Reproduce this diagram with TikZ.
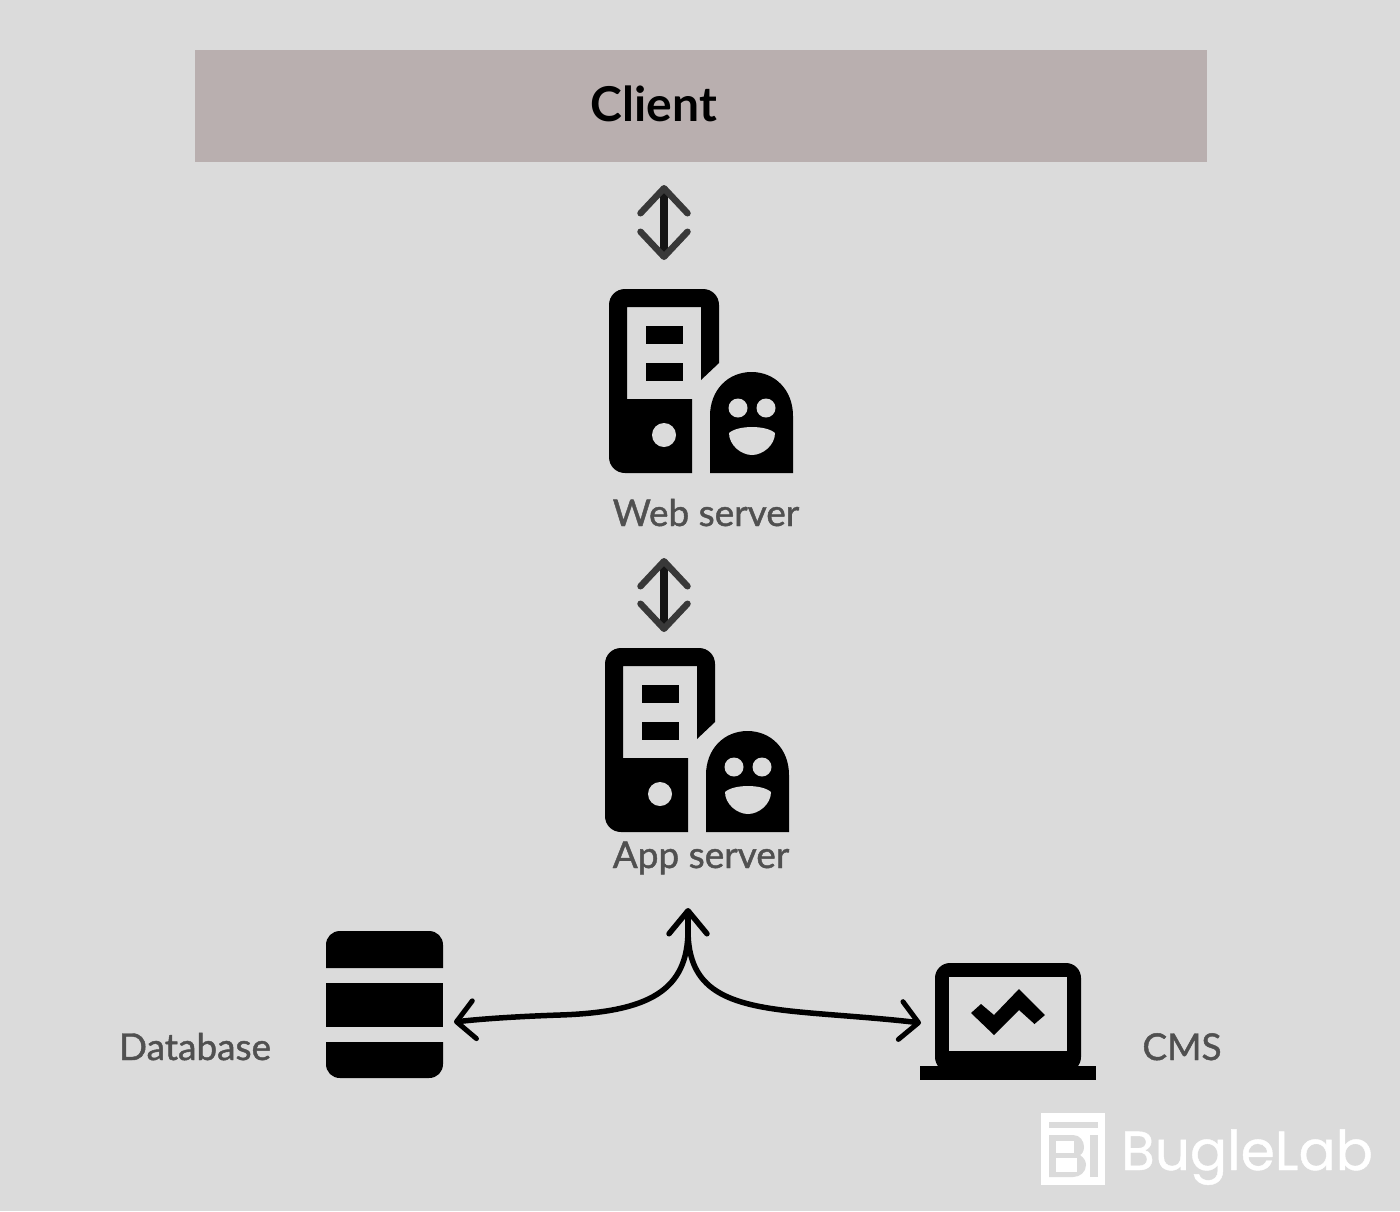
\documentclass[tikz,border=0pt]{standalone}
\usepackage{fontspec}
\setmainfont{Lato}
\newfontfamily\labfont[FakeBold=1.2]{Lato}
\newfontfamily\logofont[FakeBold=0.8]{Poppins}
\usetikzlibrary{arrows.meta}
\definecolor{bg}{HTML}{DBDBDB}
\definecolor{clientfill}{HTML}{B9AFAF}
\definecolor{labelgray}{HTML}{505050}
\tikzset{
  x=1pt,y=-1pt,
  ink/.style={fill=black,draw=none},
  hole/.style={fill=bg,draw=none},
  lab/.style={text=labelgray,font=\labfont\fontsize{37}{40}\selectfont,inner sep=0pt,anchor=base},
  updown/.style={line width=7.5pt,color=black!92,
    {Straight Barb[length=25pt,width=47pt,line width=6.5pt,round,color=black!78]}-{Straight Barb[length=25pt,width=47pt,line width=6.5pt,round,color=black!78]}},
  branch/.style={line width=5.5pt,color=black,line cap=round,-{Straight Barb[length=18pt,width=38pt,line width=5pt,round]}},
  branchup/.style={line width=5.5pt,color=black,line cap=round,-{Straight Barb[length=23pt,width=38pt,line width=5.5pt,round]}},
}
\newcommand{\servericon}[2]{%
  \begin{scope}[shift={(#1,#2)}]
    \fill[ink] (609,305) .. controls (609,296) and (616,289) .. (625,289) -- (703,289) .. controls (712,289) and (719,296) .. (719,305) -- (719,363) -- (701,380) -- (701,307) -- (627,307) -- (627,399) -- (692,399) -- (692,473) -- (625,473) .. controls (616,473) and (609,466) .. (609,457) -- cycle;
    \fill[ink] (646,326) rectangle (683,344);
    \fill[ink] (646,363) rectangle (683,381);
    \fill[hole] (664,435) circle[radius=12];
    \fill[ink] (710,473) -- (710,416) .. controls (710,390) and (728,372) .. (751.5,372) .. controls (775,372) and (793,390) .. (793,416) -- (793,473) -- cycle;
    \fill[hole] (738,408) circle[radius=9.5];
    \fill[hole] (766,408) circle[radius=9.5];
    \fill[hole] (729,433) .. controls (738,425) and (766,425) .. (775,433) .. controls (775,445) and (763,455) .. (752,455) .. controls (741,455) and (729,445) .. (729,433) -- cycle;
  \end{scope}}
\begin{document}
\begin{tikzpicture}
\useasboundingbox (0,0) rectangle (1400,1211);
\fill[bg] (0,0) rectangle (1400,1211);

% client
\fill[clientfill] (195,50) rectangle (1207,162);
\node[inner sep=0pt,font=\fontsize{48}{52}\selectfont\bfseries,text=black] (client) at (654,104) {Client};

% servers
\servericon{0}{0}
\servericon{-4}{359}
\node[lab] (web) at (706,526) {Web server};
\node[lab] (app) at (701,868) {App server};

% database
\fill[ink] (326,968) -- (326,945) .. controls (326,937) and (332,931) .. (340,931) -- (429,931) .. controls (437,931) and (443,937) .. (443,945) -- (443,968) -- cycle;
\fill[ink] (326,983) rectangle (443,1027);
\fill[ink] (326,1042) -- (443,1042) -- (443,1064) .. controls (443,1072) and (437,1078) .. (429,1078) -- (340,1078) .. controls (332,1078) and (326,1072) .. (326,1064) -- cycle;
\node[lab] (dblabel) at (195,1060) {Database};

% cms laptop
\fill[ink,rounded corners=15pt] (935,963) rectangle (1081,1072);
\fill[hole] (949,977) rectangle (1067,1051);
\fill[ink] (920,1066) rectangle (1096,1080);
\fill[ink] (971,1013) -- (981,1004) -- (994,1015) -- (1019,989) -- (1045,1015) -- (1034.5,1024) -- (1019,1010) -- (994,1035) -- cycle;
\node[lab] (cmslabel) at (1182,1060) {CMS};

% connectors
\coordinate (a1) at (664,185);
\coordinate (a2) at (664,260);
\coordinate (b1) at (664,558);
\coordinate (b2) at (664,632);
\draw[updown] (a1) -- (a2);
\draw[updown] (b1) -- (b2);

\coordinate (hub) at (688,908);
\coordinate (dbend) at (454,1022);
\coordinate (cmsend) at (921,1023);
\draw[branch] (688,930) .. controls (688,990) and (650,1012) .. (560,1015) .. controls (530,1016) and (490,1018) .. (dbend);
\draw[branch] (688,930) .. controls (688,990) and (726,1005) .. (800,1012) .. controls (830,1015) and (880,1018) .. (cmsend);
\draw[branchup] (688,945) -- (hub);

% logo
\fill[white] (1041,1113) rectangle (1105,1185);
\fill[bg] (1049,1122) rectangle (1098,1128);
\fill[bg] (1049,1135) -- (1073,1135) .. controls (1080,1135) and (1084,1141) .. (1084,1147) .. controls (1084,1151) and (1082,1154) .. (1080,1155) .. controls (1084,1158) and (1086,1161) .. (1086,1165) .. controls (1086,1172) and (1080,1177) .. (1073,1177) -- (1049,1177) -- cycle;
\fill[white] (1056,1141) rectangle (1074,1153);
\fill[white] (1056,1158) rectangle (1077,1172);
\fill[bg] (1090,1135) rectangle (1098,1177);
\node[inner sep=0pt,anchor=base,text=white,font=\logofont\fontsize{55}{60}\selectfont] (logo) at (1247,1170) {BugleLab};
\end{tikzpicture}
\end{document}
